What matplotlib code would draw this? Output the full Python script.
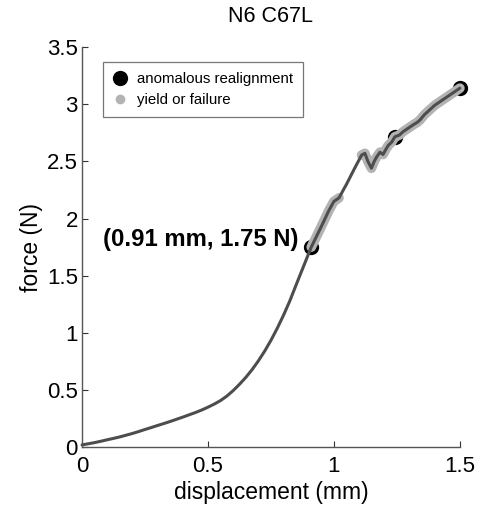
import numpy as np
import matplotlib
matplotlib.use("Agg")
import matplotlib.pyplot as plt
from matplotlib.lines import Line2D

plt.rcParams['font.family'] = ['Liberation Sans', 'DejaVu Sans']

# Force-displacement trace
displacement = [0.00, 0.025, 0.05, 0.075, 0.10, 0.125, 0.15, 0.175, 0.20, 0.225,
                0.25, 0.275, 0.30, 0.325, 0.35, 0.375, 0.40, 0.425, 0.45, 0.475,
                0.50, 0.525, 0.55, 0.575, 0.60, 0.625, 0.65, 0.675, 0.70, 0.725,
                0.75, 0.775, 0.80, 0.825, 0.85, 0.88, 0.91, 0.95,
                0.98, 1.00, 1.02, 1.05, 1.08, 1.11, 1.123, 1.135, 1.149, 1.16,
                1.17, 1.183, 1.195, 1.205, 1.216, 1.23, 1.242, 1.26, 1.275, 1.295,
                1.315, 1.33, 1.341, 1.36, 1.38, 1.40, 1.42, 1.44, 1.46, 1.48, 1.50]
force = [0.02, 0.03, 0.04, 0.052, 0.065, 0.077, 0.09, 0.105, 0.12, 0.137,
         0.155, 0.172, 0.19, 0.207, 0.225, 0.244, 0.263, 0.283, 0.303, 0.325,
         0.35, 0.377, 0.408, 0.447, 0.495, 0.55, 0.61, 0.678, 0.755, 0.84,
         0.935, 1.04, 1.155, 1.28, 1.42, 1.585, 1.75, 1.93,
         2.07, 2.15, 2.18, 2.30, 2.43, 2.555, 2.57, 2.50, 2.44, 2.50,
         2.54, 2.58, 2.56, 2.60, 2.64, 2.67, 2.715, 2.73, 2.76, 2.79,
         2.82, 2.84, 2.86, 2.91, 2.95, 2.99, 3.02, 3.05, 3.08, 3.11, 3.14]

# Displacement intervals flagged as yield or failure
yield_spans = [(0.91, 1.04), (1.10, 1.50)]

# Anomalous realignment events
realign_disp = [0.91, 1.242, 1.50]
realign_force = [1.75, 2.715, 3.14]

disp = np.array(displacement)
frc = np.array(force)

fig = plt.figure(figsize=(4.8, 5.14), dpi=100)
ax = fig.add_axes([0.171, 0.130, 0.787, 0.7785])

line_col = '#4d4d4d'
yield_col = '#b3b3b3'

ax.plot(realign_disp, realign_force, 'o', color='black', markersize=11,
        markeredgewidth=0, zorder=2, clip_on=False)
for lo, hi in yield_spans:
    m = (disp >= lo - 1e-9) & (disp <= hi + 1e-9)
    ax.plot(disp[m], frc[m], '-', color=yield_col, linewidth=7,
            solid_capstyle='round', solid_joinstyle='round', zorder=3,
            clip_on=False)
ax.plot(disp, frc, '-', color=line_col, linewidth=2.2,
        solid_joinstyle='round', solid_capstyle='round', zorder=4,
        clip_on=False)

ax.text(realign_disp[0] - 0.05, realign_force[0] + 0.07,
        f'({realign_disp[0]:.2f} mm, {realign_force[0]:.2f} N)',
        ha='right', va='center', fontsize=17.2, fontweight='bold')

ax.set_xlim(0, 1.5)
ax.set_ylim(0, 3.5)
ax.set_xticks([0, 0.5, 1, 1.5])
ax.set_xticklabels(['0', '0.5', '1', '1.5'])
ax.set_yticks([0, 0.5, 1, 1.5, 2, 2.5, 3, 3.5])
ax.set_yticklabels(['0', '0.5', '1', '1.5', '2', '2.5', '3', '3.5'])
ax.tick_params(direction='in', length=4, width=0.8, labelsize=16,
               colors='#333333', labelcolor='black')
ax.tick_params(axis='x', pad=6)
ax.tick_params(axis='y', pad=3)
for s in ['top', 'right']:
    ax.spines[s].set_visible(False)
for s in ['left', 'bottom']:
    ax.spines[s].set_color('#555555')
    ax.spines[s].set_linewidth(1.0)

ax.set_xlabel('displacement (mm)', fontsize=16.5, labelpad=3)
ax.set_ylabel('force (N)', fontsize=16.5, labelpad=3)
ax.set_title('N6 C67L', fontsize=15.5, pad=18)

handles = [Line2D([], [], linestyle='none', marker='o', color='black',
                  markersize=11, markeredgewidth=0),
           Line2D([], [], linestyle='none', marker='o', color=yield_col,
                  markersize=7, markeredgewidth=0)]
leg = ax.legend(handles, ['anomalous realignment', 'yield or failure'],
                loc='upper left', bbox_to_anchor=(0.056, 0.9625),
                borderaxespad=0, fontsize=10.8, frameon=True, fancybox=False,
                edgecolor='#555555', handlelength=1.0, handletextpad=0.6,
                borderpad=0.65, labelspacing=0.5)
leg.get_frame().set_linewidth(0.9)

fig.savefig('out.png', dpi=100)
